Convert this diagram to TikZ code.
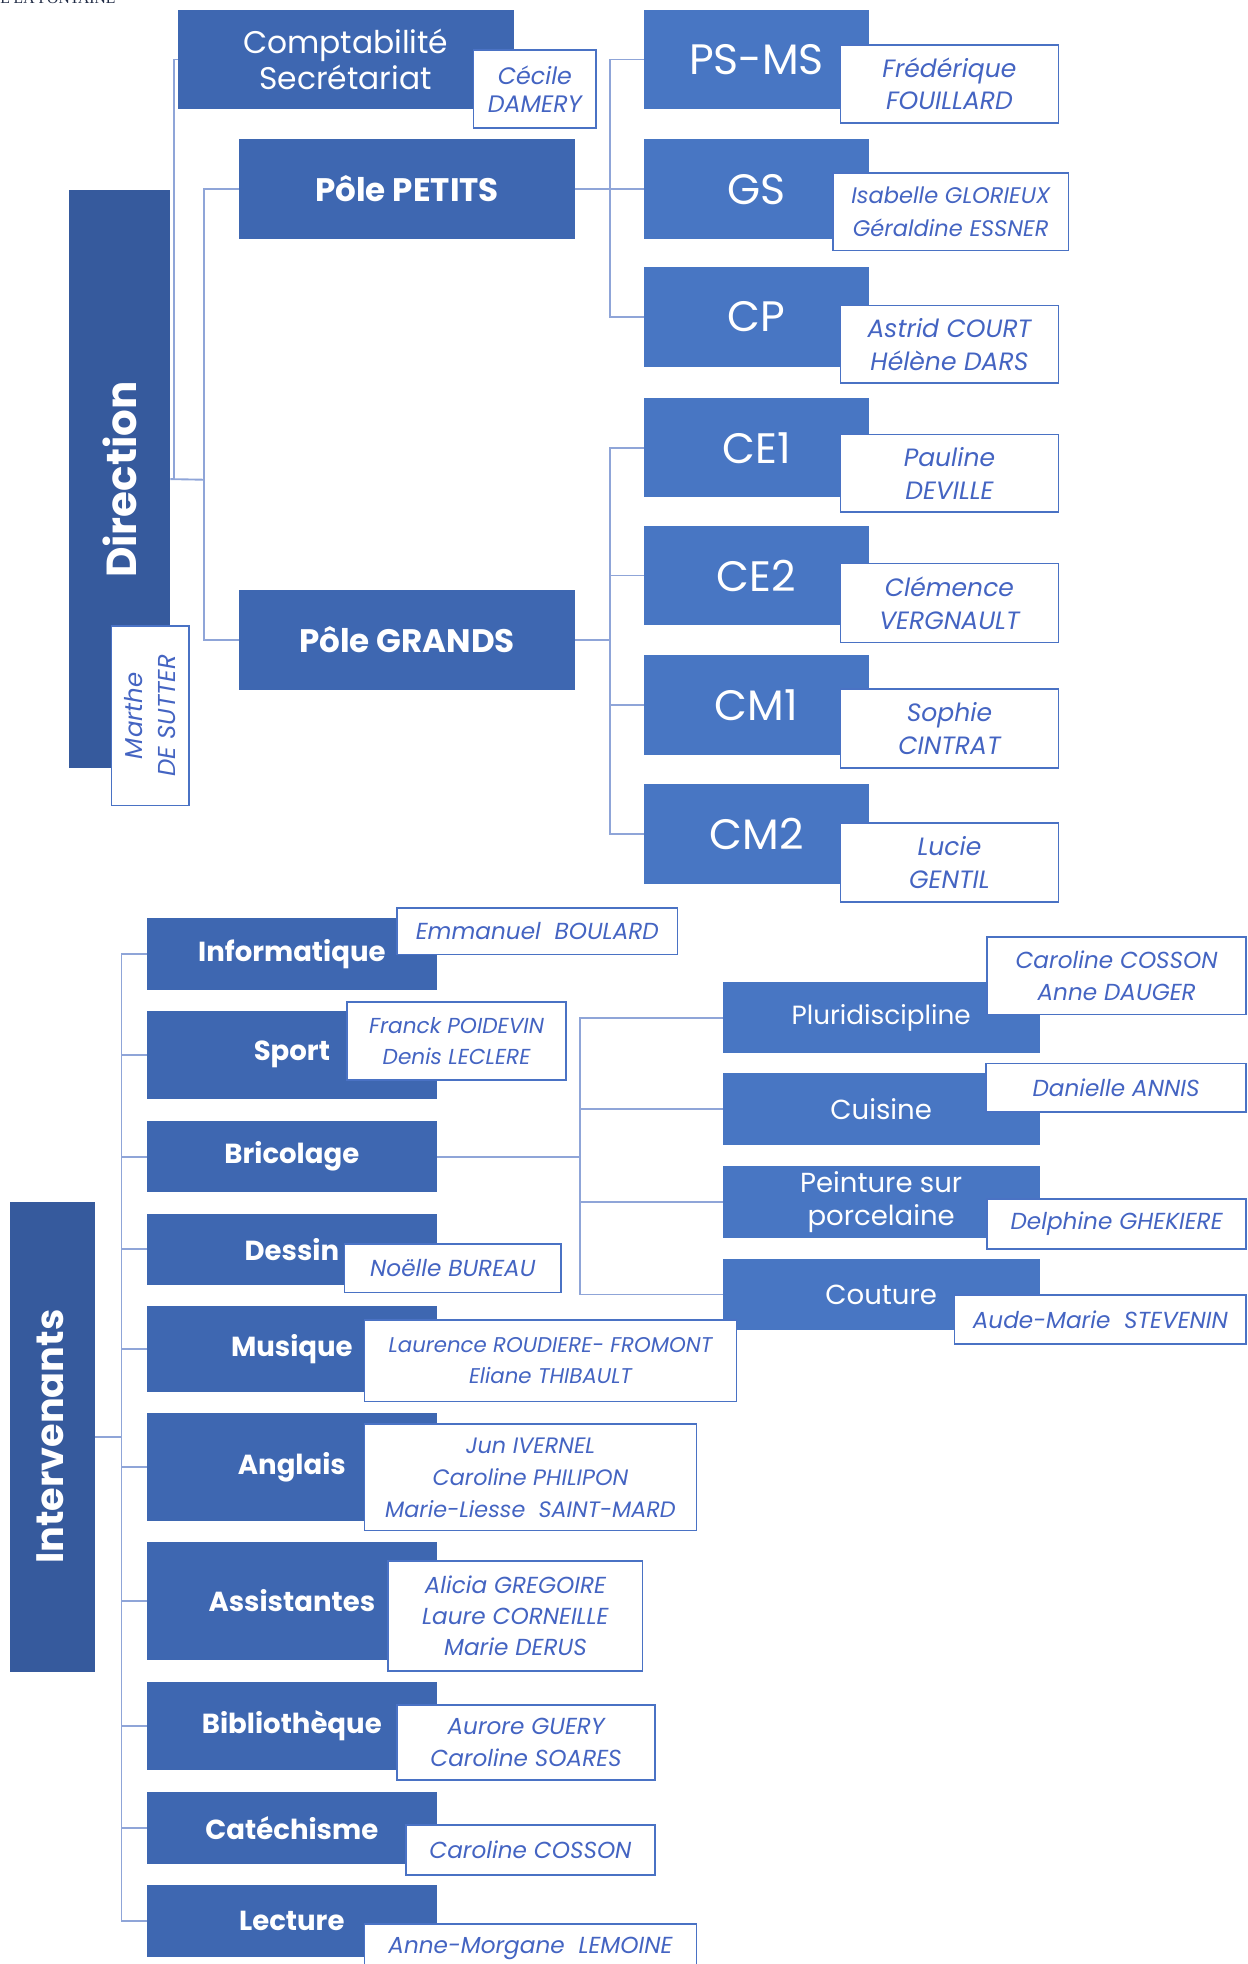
\documentclass[tikz,border=0pt]{standalone}
\usepackage{fontspec}
\setmainfont{Poppins}
\newfontfamily\hdrfont{Liberation Serif}
\definecolor{dirblue}{HTML}{365A9D}
\definecolor{midblue}{HTML}{3E67B1}
\definecolor{liteblue}{HTML}{4876C3}
\definecolor{namecol}{HTML}{4464C2}
\definecolor{nameborder}{HTML}{4A72C4}
\definecolor{linecol}{HTML}{8FA5D8}
\definecolor{hdrcol}{HTML}{1F2A44}
\newcommand{\obox}[7]{\node[#6, minimum width={(#4-#2)*1pt}, minimum height={(#5-#3)*1pt}] (#1) at ({(#2+#4)/2},{(#3+#5)/2}) {#7};}
\tikzset{
  base/.style={inner sep=0pt, outer sep=0pt, align=center, text=white},
  midbox/.style={base, fill=midblue},
  litebox/.style={base, fill=liteblue},
  dirbox/.style={base, fill=dirblue},
  namebox/.style={fill=white, draw=nameborder, line width=1.3pt, text=namecol, inner sep=0pt, outer sep=0pt, align=center, font=\itshape\fontsize{20}{26}\selectfont},
  smallname/.style={namebox, font=\itshape\fontsize{18.5}{25}\selectfont},
  conn/.style={draw=linecol, line width=1.5pt},
  toptext/.style={font=\fontsize{25}{29}\selectfont},
  poletext/.style={font=\bfseries\fontsize{26}{30}\selectfont},
  classtext/.style={font=\fontsize{34}{40}\selectfont},
  acttext/.style={font=\bfseries\fontsize{22}{26}\selectfont},
  grptext/.style={font=\fontsize{22}{26}\selectfont},
}
\begin{document}
\begin{tikzpicture}[x=1pt,y=-1pt]
\useasboundingbox (0,0) rectangle (996,1568);
\node[anchor=base west, inner sep=0pt, text=hdrcol, font=\hdrfont\fontsize{12.5}{12.5}\selectfont] (hdr) at (0,3) {E LA FONTAINE};

% ---- top part ----
\obox{dir}{55}{152}{136}{613}{dirbox}{}
\node[text=white, rotate=90, font=\bfseries\fontsize{33.5}{36}\selectfont, inner sep=0pt] (dirlabel) at (95.5,383) {Direction};
\node[namebox, rotate=90, minimum width=143pt, minimum height=62pt, font=\itshape\fontsize{19.5}{26}\selectfont] (marthe) at (120,571.5) {Marthe\\DE SUTTER};

\obox{compta}{142}{8}{410}{87}{midbox,toptext}{Comptabilité\\Secrétariat}
\obox{cecile}{378}{40}{476}{102}{namebox,font=\itshape\fontsize{19}{22}\selectfont}{Cécile\\DAMERY}
\obox{ppetits}{191}{111}{459}{191}{midbox,poletext}{Pôle PETITS}
\obox{pgrands}{191}{471}{459}{551}{midbox,poletext}{Pôle GRANDS}

\obox{psms}{514}{8}{694}{87}{litebox,classtext}{PS-MS}
\obox{gs}{514}{111}{694}{191}{litebox,classtext}{GS}
\obox{cp}{514}{213}{694}{293}{litebox,classtext}{CP}
\obox{ce1}{514}{318}{694}{397}{litebox,classtext}{CE1}
\obox{ce2}{514}{420}{694}{499}{litebox,classtext}{CE2}
\obox{cm1}{514}{523}{694}{603}{litebox,classtext}{CM1}
\obox{cm2}{514}{626}{694}{706}{litebox,classtext}{CM2}

\obox{npsms}{671}{36}{845}{98}{namebox}{Frédérique\\FOUILLARD}
\obox{ngs}{665}{138}{853}{200}{namebox,font=\itshape\fontsize{18}{26}\selectfont}{Isabelle GLORIEUX\\Géraldine ESSNER}
\obox{ncp}{671}{244}{845}{306}{namebox}{Astrid COURT\\Hélène DARS}
\obox{nce1}{671}{347}{845}{409}{namebox}{Pauline\\DEVILLE}
\obox{nce2}{671}{450}{845}{513}{namebox}{Clémence\\VERGNAULT}
\obox{ncm1}{671}{550}{845}{613}{namebox}{Sophie\\CINTRAT}
\obox{ncm2}{671}{657}{845}{720}{namebox}{Lucie\\GENTIL}

% connectors top
\coordinate (asst) at (139,383);
\coordinate (busD) at (163,383);
\coordinate (busP) at (487,151);
\coordinate (busG) at (487,511);
\draw[conn] (compta.west) -| (asst);
\draw[conn] (dir.east) -- (busD);
\draw[conn] (ppetits.west) -| (busD);
\draw[conn] (pgrands.west) -| (busD);
\draw[conn] (ppetits.east) -- (gs.west);
\draw[conn] (psms.west) -| (busP);
\draw[conn] (cp.west) -| (busP);
\draw[conn] (pgrands.east) -- (busG);
\foreach \n in {ce1,ce2,cm1,cm2} \draw[conn] (\n.west) -| (busG);

% ---- bottom part ----
\obox{interv}{8}{960}{76}{1335}{dirbox}{}
\node[text=white, rotate=90, font=\bfseries\fontsize{30.5}{36}\selectfont, inner sep=0pt] (intlabel) at (40,1147) {Intervenants};

\obox{info}{117}{733}{349}{790}{midbox,acttext}{Informatique}
\obox{sport}{117}{807}{349}{877}{midbox,acttext}{Sport}
\obox{brico}{117}{895}{349}{952}{midbox,acttext}{Bricolage}
\obox{dessin}{117}{969}{349}{1026}{midbox,acttext}{Dessin}
\obox{musique}{117}{1043}{349}{1111}{midbox,acttext}{Musique}
\obox{anglais}{117}{1128}{349}{1214}{midbox,acttext}{Anglais}
\obox{assist}{117}{1231}{349}{1325}{midbox,acttext}{Assistantes}
\obox{biblio}{117}{1343}{349}{1413}{midbox,acttext}{Bibliothèque}
\obox{catech}{117}{1431}{349}{1488}{midbox,acttext}{Catéchisme}
\obox{lecture}{117}{1505}{349}{1562}{midbox,acttext}{Lecture}

\obox{pluri}{577}{784}{830}{841}{litebox,font=\fontsize{21}{26}\selectfont}{Pluridiscipline}
\obox{cuisine}{577}{857}{830}{914}{litebox,grptext}{Cuisine}
\obox{peinture}{577}{931}{830}{988}{litebox,grptext}{Peinture sur\\porcelaine}
\obox{couture}{577}{1005}{830}{1062}{litebox,grptext}{Couture}

\obox{ninfo}{317}{725}{541}{762}{smallname}{Emmanuel\ \ BOULARD}
\obox{nsport}{277}{800}{452}{862}{smallname,font=\itshape\fontsize{17.3}{25}\selectfont}{Franck POIDEVIN\\Denis LECLERE}
\obox{ndessin}{275}{993}{448}{1032}{smallname}{Noëlle BUREAU}
\obox{nmusique}{291}{1054}{588}{1119}{smallname,font=\itshape\fontsize{17}{25}\selectfont}{Laurence ROUDIERE- FROMONT\\Eliane THIBAULT}
\obox{nanglais}{291}{1137}{556}{1222}{smallname,font=\itshape\fontsize{17.8}{25.5}\selectfont}{Jun IVERNEL\\Caroline PHILIPON\\Marie-Liesse\ \ SAINT-MARD}
\obox{nassist}{310}{1246}{513}{1334}{smallname}{Alicia GREGOIRE\\Laure CORNEILLE\\Marie DERUS}
\obox{nbiblio}{317}{1361}{523}{1421}{smallname}{Aurore GUERY\\Caroline SOARES}
\obox{ncatech}{324}{1457}{523}{1497}{smallname}{Caroline COSSON}
\obox{nlecture}{291}{1536}{556}{1575}{smallname}{Anne-Morgane\ \ LEMOINE}

\obox{npluri}{788}{748}{995}{810}{smallname}{Caroline COSSON\\Anne DAUGER}
\obox{ncuisine}{787}{849}{995}{888}{smallname}{Danielle ANNIS}
\obox{npeinture}{788}{957}{995}{997}{smallname}{Delphine GHEKIERE}
\obox{ncouture}{762}{1034}{995}{1073}{smallname}{Aude-Marie\ \ STEVENIN}

% connectors bottom
\coordinate (busI) at (97,1147.5);
\coordinate (busB) at (463,923.5);
\draw[conn] (interv.east) -- (busI);
\foreach \n in {info,sport,brico,dessin,musique,anglais,assist,biblio,catech,lecture} \draw[conn] (\n.west) -| (busI);
\draw[conn] (brico.east) -- (busB);
\foreach \n in {pluri,cuisine,peinture,couture} \draw[conn] (\n.west) -| (busB);
\end{tikzpicture}
\end{document}
